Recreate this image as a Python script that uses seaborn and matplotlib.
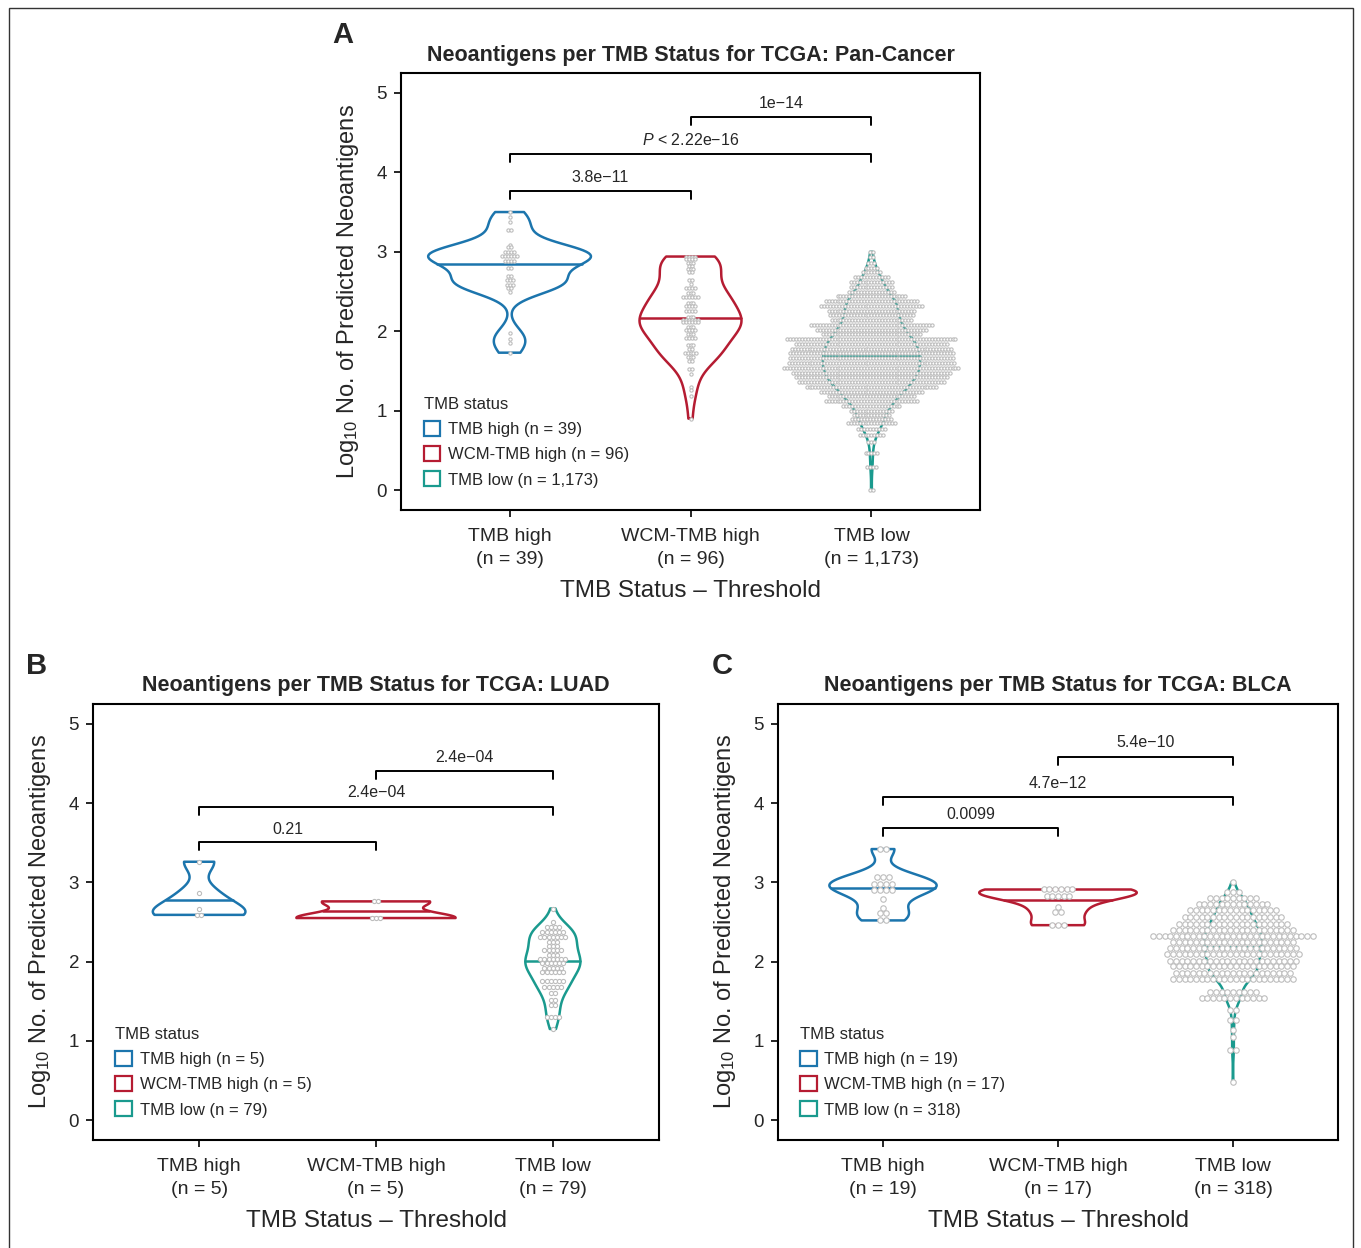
import numpy as np
import pandas as pd
import matplotlib
matplotlib.use("Agg")
import matplotlib.pyplot as plt
import seaborn as sns
from matplotlib.patches import Patch, Rectangle

# groups and colours
groups = ["TMB high", "WCM-TMB high", "TMB low"]
group_colors = ["#1c75ad", "#b51c32", "#1a9a8e"]

# Pan-cancer: dot rows (log10 value, number of dots in row)
pan_high_levels = [3.50, 3.44, 3.38, 3.27, 3.09, 3.06, 3.00, 2.95, 2.88, 2.79, 2.69, 2.64, 2.58, 2.55, 2.49, 1.98, 1.90, 1.85, 1.73]
pan_high_counts = [1, 1, 1, 2, 1, 2, 4, 6, 4, 2, 2, 3, 3, 2, 1, 1, 1, 1, 1]
pan_wcm_levels = [2.94, 2.905, 2.86, 2.82, 2.78, 2.74, 2.65, 2.60, 2.54, 2.48, 2.43, 2.36, 2.32, 2.25, 2.18, 2.14,
                  2.11, 2.05, 2.02, 1.96, 1.91, 1.83, 1.78, 1.73, 1.68, 1.63, 1.53, 1.46, 1.30, 1.26, 1.18, 0.90]
pan_wcm_counts = [4, 4, 3, 2, 3, 2, 2, 1, 4, 3, 6, 3, 4, 4, 3, 6, 6, 3, 4, 3, 4, 3, 2, 5, 3, 2, 2, 1, 1, 1, 1, 1]
pan_low_levels = [3.00, 2.93, 2.86, 2.80, 2.74, 2.68, 2.62, 2.56, 2.50, 2.44, 2.38, 2.32, 2.26, 2.20, 2.14, 2.08,
                  2.02, 1.96, 1.90, 1.84, 1.78, 1.72, 1.66, 1.60, 1.54, 1.48, 1.42, 1.36, 1.30, 1.24, 1.18, 1.12,
                  1.06, 1.00, 0.95, 0.89, 0.84, 0.77, 0.69, 0.61, 0.47, 0.29, 0.00]
pan_low_counts = [2, 2, 3, 5, 7, 12, 15, 15, 16, 24, 32, 35, 30, 29, 28, 42,
                  38, 34, 58, 52, 55, 56, 56, 57, 60, 54, 52, 50, 45, 35, 30, 32,
                  20, 15, 13, 14, 17, 10, 9, 3, 5, 4, 2]

# LUAD
luad_high_levels = [3.26, 2.86, 2.66, 2.59]
luad_high_counts = [1, 1, 1, 2]
luad_wcm_levels = [2.76, 2.55]
luad_wcm_counts = [2, 3]
luad_low_levels = [2.67, 2.50, 2.44, 2.38, 2.31, 2.25, 2.20, 2.15, 2.09, 2.03, 1.98, 1.92, 1.87, 1.75, 1.68,
                   1.60, 1.51, 1.45, 1.30, 1.15]
luad_low_counts = [1, 1, 4, 6, 7, 3, 3, 5, 3, 7, 6, 5, 6, 6, 5, 2, 2, 2, 4, 1]

# BLCA
blca_high_levels = [3.42, 3.07, 2.98, 2.90, 2.79, 2.68, 2.61, 2.52]
blca_high_counts = [2, 3, 4, 4, 1, 1, 2, 2]
blca_wcm_levels = [2.91, 2.83, 2.69, 2.63, 2.46]
blca_wcm_counts = [6, 5, 1, 2, 3]
blca_low_levels = [3.00, 2.88, 2.80, 2.73, 2.65, 2.56, 2.48, 2.40, 2.32, 2.25, 2.17, 2.10, 2.01, 1.94, 1.86,
                   1.78, 1.62, 1.54, 1.39, 1.26, 1.14, 1.05, 0.88, 0.48]
blca_low_counts = [1, 3, 9, 13, 16, 18, 20, 22, 29, 22, 23, 24, 23, 22, 21, 22, 9, 12, 2, 2, 1, 1, 2, 1]

# sample sizes and p-values
pan_n = ["39", "96", "1,173"]
luad_n = ["5", "5", "79"]
blca_n = ["19", "17", "318"]
pan_p = ["3.8e\u221211", "$\\mathit{P}$ < 2.22e\u221216", "1e\u221214"]
luad_p = ["0.21", "2.4e\u221204", "2.4e\u221204"]
blca_p = ["0.0099", "4.7e\u221212", "5.4e\u221210"]

sns.set_style("white")
narrow = ["Liberation Sans Narrow", "Liberation Sans", "DejaVu Sans"]
regular = ["Liberation Sans", "DejaVu Sans"]
plt.rcParams["font.family"] = regular
plt.rcParams["mathtext.fontset"] = "custom"
plt.rcParams["mathtext.rm"] = "Liberation Sans"
plt.rcParams["mathtext.it"] = "Liberation Sans:italic"
plt.rcParams["mathtext.default"] = "regular"


def nrd0(kde):
    # R's bw.nrd0, given as a factor of the sample sd
    d = np.asarray(kde.dataset).ravel()
    sd = d.std(ddof=1)
    q75, q25 = np.percentile(d, [75, 25])
    lo = min(sd, (q75 - q25) / 1.34)
    if lo <= 0:
        lo = sd
    return 0.9 * lo * len(d) ** -0.2 / sd


def draw_panel(ax, levels, counts, ns, pvals, title, pitch, dot_s):
    rows = []
    for g, lv, ct in zip(groups, levels, counts):
        for v in np.repeat(lv, ct):
            rows.append((g, v))
    df = pd.DataFrame(rows, columns=["group", "value"])

    n0 = len(ax.collections)
    sns.violinplot(data=df, x="group", y="value", hue="group", order=groups, hue_order=groups,
                   palette=group_colors, fill=False, inner=None, cut=0, bw_method=nrd0,
                   density_norm="area", common_norm=True, width=0.9, linewidth=1.8,
                   legend=False, ax=ax)

    # median line from the violin density (like ggplot draw_quantiles)
    for i, coll in enumerate(ax.collections[n0:n0 + 3]):
        v = coll.get_paths()[0].vertices
        right = v[v[:, 0] > i + 1e-9]
        ys, idx = np.unique(right[:, 1], return_index=True)
        hw = right[idx, 0] - i
        cum = np.concatenate([[0], np.cumsum(np.diff(ys) * (hw[1:] + hw[:-1]) / 2)])
        ym = np.interp(cum[-1] / 2, cum, ys)
        hm = np.interp(ym, ys, hw)
        ax.plot([i - hm, i + hm], [ym, ym], color=group_colors[i], lw=1.8, zorder=2)

    # centred dot stacks
    for i, (lv, ct) in enumerate(zip(levels, counts)):
        xs, ys = [], []
        for y, c in zip(lv, ct):
            off = (np.arange(c) - (c - 1) / 2) * pitch
            xs.extend(i + off)
            ys.extend([y] * c)
        ax.scatter(xs, ys, s=dot_s, facecolor="white", edgecolor="#bdbdbd", linewidth=0.8, zorder=3)

    # significance brackets
    pairs = [(0, 1), (0, 2), (1, 2)]
    for (a, b), (yl, yt), lab in zip(pairs, pvals[1], pvals[0]):
        ax.plot([a, a, b, b], [yl - 0.1, yl, yl, yl - 0.1], color="black", lw=1.4)
        ax.text((a + b) / 2, yt, lab, ha="center", va="center", fontsize=11.5, family=narrow)

    ax.set_xlim(-0.6, 2.6)
    ax.set_ylim(-0.25, 5.25)
    ax.set_yticks([0, 1, 2, 3, 4, 5])
    ax.set_xticks([0, 1, 2])
    ax.set_xticklabels([f"{g}\n(n = {n})" for g, n in zip(groups, ns)], fontsize=14, linespacing=1.45)
    ax.tick_params(axis="y", labelsize=13.5, pad=5)
    ax.tick_params(axis="x", pad=8)
    ax.tick_params(length=5, width=1.2, color="black", direction="out", bottom=True, left=True)
    for sp in ax.spines.values():
        sp.set_linewidth(1.5)
        sp.set_color("black")
    ax.set_title(title, fontsize=15.5, fontweight="bold", family=narrow, pad=9)
    ax.set_xlabel("TMB Status \u2013 Threshold", fontsize=17.5, family=narrow, labelpad=9)
    ax.set_ylabel("Log$_{10}$ No. of Predicted Neoantigens", fontsize=17, family=narrow, labelpad=11)

    handles = [Patch(facecolor="white", edgecolor=c, lw=1.6, label=f"{g} (n = {n})")
               for g, c, n in zip(groups, group_colors, ns)]
    ax.legend(handles=handles, title="TMB status", loc="lower left", bbox_to_anchor=(0.013, 0.017),
              frameon=False, fontsize=12, title_fontsize=12, handlelength=1.0, handleheight=1.0,
              handletextpad=0.45, labelspacing=0.55, alignment="left")


fig = plt.figure(figsize=(13.61, 12.48), dpi=100)
ax_a = fig.add_axes([401 / 1361, 1 - 510 / 1248, 579 / 1361, 437 / 1248])
ax_b = fig.add_axes([93 / 1361, 1 - 1140 / 1248, 566 / 1361, 436 / 1248])
ax_c = fig.add_axes([778 / 1361, 1 - 1140 / 1248, 560 / 1361, 436 / 1248])

draw_panel(ax_a, [pan_high_levels, pan_wcm_levels, pan_low_levels],
           [pan_high_counts, pan_wcm_counts, pan_low_counts], pan_n,
           (pan_p, [(3.77, 3.94), (4.23, 4.41), (4.70, 4.87)]),
           "Neoantigens per TMB Status for TCGA: Pan-Cancer", 0.0163, 5.5)
draw_panel(ax_b, [luad_high_levels, luad_wcm_levels, luad_low_levels],
           [luad_high_counts, luad_wcm_counts, luad_low_counts], luad_n,
           (luad_p, [(3.51, 3.67), (3.95, 4.13), (4.41, 4.58)]),
           "Neoantigens per TMB Status for TCGA: LUAD", 0.0237, 9.0)
draw_panel(ax_c, [blca_high_levels, blca_wcm_levels, blca_low_levels],
           [blca_high_counts, blca_wcm_counts, blca_low_counts], blca_n,
           (blca_p, [(3.69, 3.85), (4.08, 4.25), (4.58, 4.76)]),
           "Neoantigens per TMB Status for TCGA: BLCA", 0.0326, 15.5)

fig.text(343 / 1361, 1 - 35 / 1248, "A", fontsize=21, fontweight="bold", ha="center", va="center")
fig.text(37 / 1361, 1 - 666 / 1248, "B", fontsize=21, fontweight="bold", ha="center", va="center")
fig.text(722 / 1361, 1 - 666 / 1248, "C", fontsize=21, fontweight="bold", ha="center", va="center")

fig.add_artist(Rectangle((9 / 1361, -0.01), (1353 - 9) / 1361, 1.01 - 8 / 1248, transform=fig.transFigure,
                         fill=False, lw=1.0, ec="#333333"))

fig.savefig("out.png", dpi=100)
